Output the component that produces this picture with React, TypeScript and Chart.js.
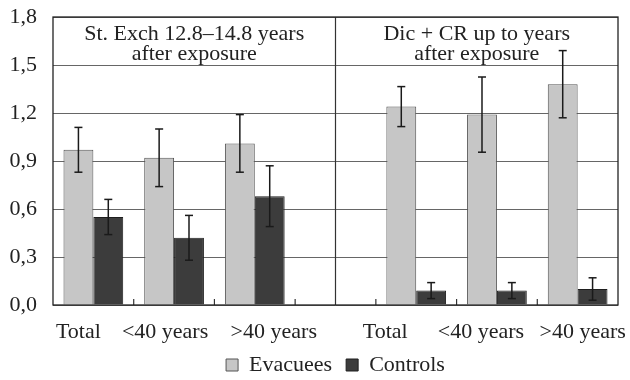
import React, { useEffect, useRef } from "react";
import { Chart, registerables } from "chart.js";
Chart.register(...registerables);

const categories = ["Total", "<40 years", ">40 years", "", "Total", "<40 years", ">40 years"];
const evacuees = [0.97, 0.92, 1.01, null, 1.24, 1.19, 1.38];
const evacueesErr = [0.14, 0.18, 0.18, null, 0.125, 0.235, 0.21];
const controls = [0.55, 0.42, 0.68, null, 0.09, 0.09, 0.1];
const controlsErr = [0.11, 0.14, 0.19, null, 0.05, 0.05, 0.07];
const yTicks = [0, 0.3, 0.6, 0.9, 1.2, 1.5, 1.8];
const panelTitles = [
  ["St. Exch 12.8\u201314.8 years", "after exposure"],
  ["Dic + CR up to years", "after exposure"],
];
const seriesNames = ["Evacuees", "Controls"];
const dividerIndex = 3;
// label nudges (layout only), in px
const labelShift = [-15, -9, 19, 0, -31, -16, 5];

const FONT = "'Liberation Serif', 'Times New Roman', serif";
const INK = "#222";

Chart.defaults.font.family = FONT;

function seg(ctx: CanvasRenderingContext2D, x1: number, y1: number, x2: number, y2: number) {
  ctx.beginPath();
  ctx.moveTo(x1, y1);
  ctx.lineTo(x2, y2);
  ctx.stroke();
}

const panelPlugin = {
  id: "panels",
  beforeDatasetsDraw(chart: any) {
    const { ctx, chartArea: a, scales } = chart;
    const x = scales.x;
    ctx.save();
    ctx.strokeStyle = "#333";
    ctx.lineWidth = 1.2;
    const xd = x.getPixelForValue(dividerIndex);
    seg(ctx, xd, a.top, xd, a.bottom);
    for (let i = 0; i < categories.length - 1; i++) {
      const xm = (x.getPixelForValue(i) + x.getPixelForValue(i + 1)) / 2;
      seg(ctx, xm, a.bottom, xm, a.bottom - 6);
    }
    ctx.restore();
  },
  afterDatasetsDraw(chart: any) {
    const { ctx, chartArea: a, scales } = chart;
    const x = scales.x;
    const y = scales.y;
    ctx.save();
    // error bars
    const sets = [
      [evacuees, evacueesErr],
      [controls, controlsErr],
    ];
    ctx.strokeStyle = "#1a1a1a";
    ctx.lineWidth = 1.5;
    sets.forEach(([vals, errs], d) => {
      const meta = chart.getDatasetMeta(d);
      meta.data.forEach((bar: any, i: number) => {
        const v = vals[i];
        const e = errs[i];
        if (v == null || e == null) return;
        const yt = y.getPixelForValue(v + e);
        const yb = y.getPixelForValue(v - e);
        seg(ctx, bar.x, yt, bar.x, yb);
        seg(ctx, bar.x - 4, yt, bar.x + 4, yt);
        seg(ctx, bar.x - 4, yb, bar.x + 4, yb);
      });
    });
    // frame
    ctx.strokeStyle = INK;
    ctx.lineWidth = 1.3;
    ctx.strokeRect(a.left, a.top, a.right - a.left, a.bottom - a.top);
    // panel titles
    const xd = x.getPixelForValue(dividerIndex);
    const centers = [(a.left + xd) / 2, (xd + a.right) / 2];
    ctx.fillStyle = INK;
    ctx.font = `22px ${FONT}`;
    ctx.textAlign = "center";
    ctx.textBaseline = "alphabetic";
    panelTitles.forEach((lines, p) => {
      lines.forEach((t, k) => {
        ctx.fillText(t, centers[p], a.top + 23 + k * 20);
      });
    });
    // category labels
    categories.forEach((c, i) => {
      if (!c) return;
      ctx.fillText(c, x.getPixelForValue(i) + labelShift[i], a.bottom + 33);
    });
    ctx.restore();
  },
};

export default function App() {
  const ref = useRef<HTMLCanvasElement | null>(null);
  useEffect(() => {
    document.body.style.margin = "0";
    const chart = new Chart(ref.current as HTMLCanvasElement, {
      type: "bar",
      data: {
        labels: categories,
        datasets: [
          {
            label: seriesNames[0],
            data: evacuees,
            backgroundColor: "#c6c6c6",
            borderColor: "#555",
            borderWidth: 1,
            categoryPercentage: 0.74,
            barPercentage: 1.0,
          },
          {
            label: seriesNames[1],
            data: controls,
            backgroundColor: "#3c3c3c",
            borderColor: "#1e1e1e",
            borderWidth: 1,
            categoryPercentage: 0.74,
            barPercentage: 1.0,
          },
        ],
      },
      options: {
        responsive: false,
        animation: false,
        layout: { padding: { top: 17, right: 12, left: 0, bottom: -6 } },
        plugins: {
          tooltip: { enabled: false },
          legend: {
            position: "bottom",
            fullSize: false,
            labels: {
              boxWidth: 12,
              boxHeight: 12,
              padding: 14,
              color: INK,
              font: { family: FONT, size: 22 },
            },
          },
        },
        scales: {
          x: {
            ticks: { display: false },
            grid: { display: false },
            border: { display: false },
            afterFit: (s: any) => {
              s.height = 35;
            },
          },
          y: {
            min: 0,
            max: 1.8,
            afterBuildTicks: (s: any) => {
              s.ticks = yTicks.map((v) => ({ value: v }));
            },
            ticks: {
              color: INK,
              padding: 16,
              font: { family: FONT, size: 22 },
              callback: (v: any) => Number(v).toFixed(1).replace(".", ","),
            },
            grid: { color: "#666", lineWidth: 1, drawTicks: false },
            border: { display: false },
            afterFit: (s: any) => {
              s.width = 53;
              s.paddingTop = 0;
              s.paddingBottom = 0;
            },
          },
        },
      },
      plugins: [panelPlugin],
    });
    return () => chart.destroy();
  }, []);
  return <canvas ref={ref} width={630} height={380} />;
}
